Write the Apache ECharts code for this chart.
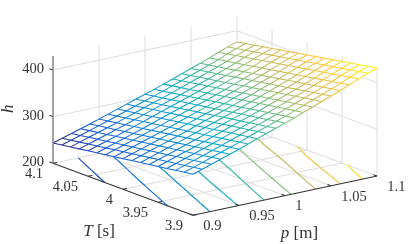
<!DOCTYPE html>
<html><head><meta charset="utf-8">
<style>html,body{margin:0;padding:0;background:#fff}#c{width:415px;height:244px}</style>
<script src="https://cdn.jsdelivr.net/npm/echarts@6/dist/echarts.min.js"></script>
</head><body><div id="c"></div>
<script>
const pValues=[0.9,0.91,0.92,0.93,0.94,0.95,0.96,0.97,0.98,0.99,1,1.01,1.02,1.03,1.04,1.05,1.06,1.07,1.08,1.09,1.1];
const tValues=[4.1,4.0875,4.075,4.0625,4.05,4.0375,4.025,4.0125,4,3.9875,3.975,3.9625,3.95,3.9375,3.925,3.9125,3.9];
const hValues=[
[243.5,249.5,255.5,261.5,267.5,273.7,280.1,286.7,293.2,299.5,305.8,312.2,319.2,326.1,333.0,340.0,346.9,354.3,362.2,369.5,376.0],
[246.3,252.3,258.3,264.4,270.4,276.6,283.1,289.7,296.2,302.6,308.9,315.3,322.4,329.3,336.3,343.3,350.2,357.7,365.6,372.9,379.5],
[249.1,255.1,261.2,267.3,273.3,279.6,286.0,292.7,299.3,305.7,312.0,318.5,325.6,332.5,339.5,346.6,353.5,361.0,369.0,376.4,382.9],
[251.8,257.9,264.0,270.1,276.2,282.5,289.0,295.7,302.3,308.7,315.1,321.6,328.7,335.7,342.8,349.8,356.9,364.4,372.4,379.8,386.4],
[254.6,260.7,266.9,273.0,279.1,285.5,292.0,298.7,305.4,311.8,318.2,324.8,331.9,338.9,346.0,353.1,360.2,367.7,375.8,383.3,389.9],
[257.4,263.6,269.7,275.9,282.1,288.4,295.0,301.8,308.4,314.9,321.4,327.9,335.1,342.2,349.3,356.4,363.5,371.1,379.2,386.7,393.4],
[260.2,266.4,272.5,278.8,285.0,291.3,297.9,304.8,311.4,318.0,324.5,331.0,338.3,345.4,352.5,359.7,366.8,374.5,382.6,390.1,396.8],
[263.0,269.2,275.4,281.7,287.9,294.3,300.9,307.8,314.5,321.1,327.6,334.2,341.5,348.6,355.8,363.0,370.1,377.8,386.0,393.6,400.3],
[265.7,272.0,278.2,284.5,290.8,297.2,303.9,310.8,317.5,324.1,330.7,337.3,344.6,351.8,359.0,366.2,373.5,381.2,389.4,397.0,403.8],
[268.5,274.8,281.1,287.4,293.7,300.2,306.8,313.8,320.6,327.2,333.8,340.5,347.8,355.0,362.3,369.5,376.8,384.5,392.8,400.5,407.2],
[271.3,277.6,283.9,290.3,296.6,303.1,309.8,316.8,323.6,330.3,336.9,343.6,351.0,358.2,365.5,372.8,380.1,387.9,396.2,403.9,410.7],
[274.1,280.4,286.7,293.2,299.5,306.0,312.8,319.8,326.6,333.4,340.0,346.7,354.2,361.4,368.8,376.1,383.4,391.3,399.6,407.3,414.2],
[276.9,283.2,289.6,296.1,302.4,309.0,315.7,322.8,329.7,336.5,343.1,349.9,357.4,364.6,372.0,379.4,386.7,394.6,403.0,410.8,417.6],
[279.6,286.0,292.4,298.9,305.3,311.9,318.7,325.8,332.7,339.5,346.2,353.0,360.5,367.8,375.3,382.6,390.1,398.0,406.4,414.2,421.1],
[282.4,288.8,295.3,301.8,308.2,314.9,321.7,328.8,335.8,342.6,349.3,356.2,363.7,371.0,378.5,385.9,393.4,401.3,409.8,417.7,424.6],
[285.2,291.6,298.1,304.7,311.2,317.8,324.7,331.8,338.8,345.7,352.5,359.3,366.9,374.3,381.8,389.2,396.7,404.7,413.2,421.1,428.1],
[288.0,294.5,301.0,307.5,314.0,320.7,327.6,334.8,341.8,348.8,355.5,362.4,370.0,377.5,385.0,392.5,400.0,408.0,416.6,424.5,431.5]
];
const pTicks=[0.9,0.95,1,1.05,1.1];
const tTicks=[4.1,4.05,4,3.95,3.9];
const tTickLabels=['4.1','4.05','4','3.95','3.9'];
const pTickLabels=['0.9','0.95','1','1.05','1.1'];
const hTicks=[200,300,400];
const hTop=430;
const contourLevels=[260,280,300,320,340,360,380,400,420];
const parulaStops=['#352a87','#0f5cdd','#1481d6','#06a4ca','#2eb7a4','#87bf77','#d1bb59','#fec832','#f9fb0e'];

const pMin=0.9,pMax=1.1,tMin=3.9,tMax=4.1,hMin=200;
const hLow=243.5,hHigh=431.5;
// oblique view of the 3-D box
const view={x0:193,y0:215.3,pX:920,pY:-196.5,tX:-700,tY:-260,hY:-0.4665};
function project(p,T,h){
  return [view.x0+(p-pMin)*view.pX+(T-tMin)*view.tX, view.y0+(p-pMin)*view.pY+(T-tMin)*view.tY+(h-hMin)*view.hY];
}
function hex(c){return [1,3,5].map(i=>parseInt(c.substr(i,2),16));}
function parula(h){
  let t=Math.max(0,Math.min(1,(h-hLow)/(hHigh-hLow)))*(parulaStops.length-1);
  let i=Math.min(Math.floor(t),parulaStops.length-2),f=t-i;
  const a=hex(parulaStops[i]),b=hex(parulaStops[i+1]);
  return 'rgb('+a.map((v,k)=>Math.round(v+(b[k]-v)*f)).join(',')+')';
}
// segments: [p1,T1,h1,p2,T2,h2]
const gridSegs=[];
pTicks.slice(1).forEach(p=>{
  gridSegs.push([p,tMax,hMin,p,tMax,hTop]);
  if(p<pMax) gridSegs.push([p,tMax,hMin,p,tMin,hMin]);
});
tTicks.slice(1).forEach(T=>{
  gridSegs.push([pMax,T,hMin,pMax,T,hTop]);
  if(T>tMin) gridSegs.push([pMin,T,hMin,pMax,T,hMin]);
});
gridSegs.push([pMin,tMax,hMin,pMax,tMax,hMin],[pMax,tMax,hMin,pMax,tMin,hMin]);
hTicks.slice(1).forEach(h=>{
  gridSegs.push([pMin,tMax,h,pMax,tMax,h],[pMax,tMax,h,pMax,tMin,h]);
});
// contours on the floor, from the table
const contourSegs=[];
for(let j=0;j<tValues.length-1;j++)for(let k=0;k<pValues.length-1;k++){
  const c=[[k,j],[k+1,j],[k+1,j+1],[k,j+1]];
  contourLevels.forEach(L=>{
    const pts=[];
    for(let e=0;e<4;e++){
      const a=c[e],b=c[(e+1)%4],ha=hValues[a[1]][a[0]],hb=hValues[b[1]][b[0]];
      if((ha<L)!==(hb<L)){
        const f=(L-ha)/(hb-ha);
        pts.push([pValues[a[0]]+(pValues[b[0]]-pValues[a[0]])*f,tValues[a[1]]+(tValues[b[1]]-tValues[a[1]])*f]);
      }
    }
    if(pts.length>=2)contourSegs.push([pts[0][0],pts[0][1],hMin,pts[1][0],pts[1][1],hMin,L]);
  });
}
// mesh edges
const meshSegs=[];
tValues.forEach((T,j)=>pValues.forEach((p,k)=>{
  const h=hValues[j][k];
  if(k<pValues.length-1){const h2=hValues[j][k+1];meshSegs.push([p,T,h,pValues[k+1],T,h2,(h+h2)/2]);}
  if(j<tValues.length-1){const h2=hValues[j+1][k];meshSegs.push([p,T,h,p,tValues[j+1],h2,(h+h2)/2]);}
}));
// outline of the surface
const outline=[];
pValues.forEach((p,k)=>outline.push([p,tMax,hValues[0][k]]));
tValues.forEach((T,j)=>outline.push([pMax,T,hValues[j][pValues.length-1]]));
pValues.slice().reverse().forEach((p,k)=>outline.push([p,tMin,hValues[tValues.length-1][pValues.length-1-k]]));
tValues.slice().reverse().forEach((T,j)=>outline.push([pMin,T,hValues[tValues.length-1-j][0]]));
// axes
const darkSegs=[[pMin,tMax,hMin,pMin,tMin,hMin],[pMin,tMin,hMin,pMax,tMin,hMin]];
tTicks.forEach(T=>darkSegs.push([pMin,T,hMin,pMin+0.0045,T,hMin]));
pTicks.forEach(p=>darkSegs.push([p,tMin,hMin,p,tMin+0.005,hMin]));
hTicks.forEach(h=>darkSegs.push([pMin,tMax,h,pMin,tMax+0.005,h]));
const zAxisSegs=[[pMin,tMax,hMin,pMin,tMax,hTop]];

function segSeries(data,z,styleFn){
  return {type:'custom',coordinateSystem:'cartesian2d',clip:false,silent:true,progressive:0,z:z,animation:false,
    data:data.map((d,i)=>[i,0]),
    renderItem(params,api){
      const d=data[params.dataIndex];
      const a=api.coord(project(d[0],d[1],d[2])),b=api.coord(project(d[3],d[4],d[5]));
      return {type:'line',shape:{x1:a[0],y1:a[1],x2:b[0],y2:b[1]},style:styleFn(d)};
    }};
}
const serif="'Liberation Serif',serif";
const labels=[];
hTicks.forEach(h=>{const a=project(pMin,tMax,h);labels.push({x:a[0]-9,y:a[1]-0.8,text:String(h),align:'right',size:14.5});});
tTicks.forEach((T,i)=>{const a=project(pMin,T,hMin);labels.push({x:a[0]-10,y:a[1]+10.5,text:tTickLabels[i],align:'right',size:14.5});});
pTicks.forEach((p,i)=>{const a=project(p,tMin,hMin);labels.push({x:a[0]+10.3,y:a[1]+11,text:pTickLabels[i],align:'left',size:14.5});});
{const a=project(pMin,4,hMin);labels.push({x:a[0]-24,y:a[1]+42,text:'{i|T} [s]',align:'center',size:17});}
{const a=project(1,tMin,hMin);labels.push({x:a[0]+14.5,y:a[1]+38,text:'{i|p} [m]',align:'center',size:17});}
{const a=project(pMin,tMax,300);labels.push({x:a[0]-44,y:a[1]-8,text:'{i|h}',align:'center',size:17,rot:Math.PI/2});}

const chart=echarts.init(document.getElementById('c'),null,{renderer:'canvas'});
chart.setOption({
  animation:false,
  grid:{left:0,right:0,top:0,bottom:0},
  xAxis:{type:'value',min:0,max:415,show:false},
  yAxis:{type:'value',min:0,max:244,inverse:true,show:false},
  series:[
    segSeries(gridSegs,1,()=>({stroke:'#dcdcdc',lineWidth:1})),
    segSeries(contourSegs,2,d=>({stroke:parula(d[6]),lineWidth:1.2})),
    {type:'custom',coordinateSystem:'cartesian2d',clip:false,silent:true,z:3,animation:false,data:[[0,0]],
      renderItem(params,api){
        return {type:'polygon',shape:{points:outline.map(o=>api.coord(project(o[0],o[1],o[2])))},style:{fill:'#fff'}};
      }},
    segSeries(meshSegs,4,d=>({stroke:parula(d[6]),lineWidth:1.05})),
    segSeries(darkSegs,5,()=>({stroke:'#333333',lineWidth:1.1})),
    segSeries(zAxisSegs,5,()=>({stroke:'#8c8c8c',lineWidth:1.6})),
    {type:'custom',coordinateSystem:'cartesian2d',clip:false,silent:true,progressive:0,z:6,animation:false,
      data:labels.map((l,i)=>[i,0]),
      renderItem(params,api){
        const l=labels[params.dataIndex],a=api.coord([l.x,l.y]);
        return {type:'text',x:a[0],y:a[1],rotation:l.rot||0,style:{text:l.text,align:l.align,verticalAlign:'middle',
          fill:'#333',font:l.size+'px '+serif,
          rich:{i:{fontStyle:'italic',fontFamily:"'Liberation Serif',serif",fontSize:l.size,fill:'#333'}}}};
      }}
  ]
});
</script></body></html>
